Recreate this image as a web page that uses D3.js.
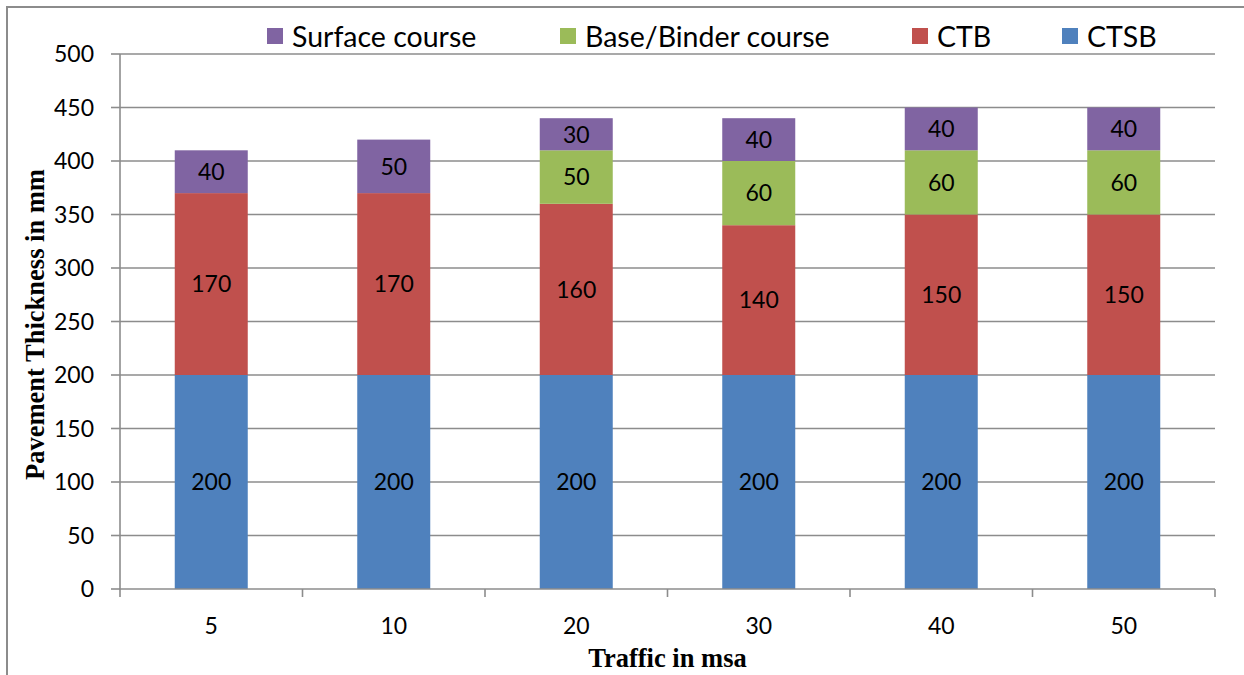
<!DOCTYPE html>
<html>
<head>
<meta charset="utf-8">
<script src="https://cdn.jsdelivr.net/npm/d3@7"></script>
<style>
  html, body { margin: 0; padding: 0; background: #fff; }
  svg { display: block; }
</style>
</head>
<body>
<svg id="chart" width="1244" height="675"></svg>
<script>
const categories = ["5", "10", "20", "30", "40", "50"];
const seriesNames = ["CTSB", "CTB", "Base/Binder course", "Surface course"];
const ctsb = [200, 200, 200, 200, 200, 200];
const ctb = [170, 170, 160, 140, 150, 150];
const baseBinder = [0, 0, 50, 60, 60, 60];
const surface = [40, 50, 30, 40, 40, 40];
const yTicks = [0, 50, 100, 150, 200, 250, 300, 350, 400, 450, 500];
const legendOrder = ["Surface course", "Base/Binder course", "CTB", "CTSB"];
const colors = {
  "CTSB": "#4F81BD",
  "CTB": "#C0504D",
  "Base/Binder course": "#9BBB59",
  "Surface course": "#8064A2"
};

const svg = d3.select("#chart");
const W = 1244, H = 675;
const m = { left: 120, right: 1215, top: 54, bottom: 589 };
const tickFont = "Lato, 'Open Sans', sans-serif";
const serif = "'Liberation Serif', 'Times New Roman', serif";

// outer frame
svg.append("rect").attr("x", 7).attr("y", 7).attr("width", W).attr("height", H)
  .attr("fill", "none").attr("stroke", "#8c8c8c").attr("stroke-width", 2);

const x = d3.scaleBand().domain(categories).range([m.left, m.right]).paddingInner(0.6).paddingOuter(0.3);
const xb = d3.scaleBand().domain(categories).range([m.left, m.right]);
const y = d3.scaleLinear().domain([0, 500]).range([m.bottom, m.top]);

// gridlines
svg.append("g").selectAll("line").data(yTicks.filter(d => d > 0)).join("line")
  .attr("x1", m.left).attr("x2", m.right)
  .attr("y1", d => y(d)).attr("y2", d => y(d))
  .attr("stroke", "#8c8c8c").attr("stroke-width", 1.6);

// stacked data
const table = categories.map((c, i) => ({
  cat: c,
  "CTSB": ctsb[i], "CTB": ctb[i], "Base/Binder course": baseBinder[i], "Surface course": surface[i]
}));
const stack = d3.stack().keys(seriesNames)(table);

const bars = svg.append("g");
stack.forEach(layer => {
  const g = bars.append("g").attr("fill", colors[layer.key]);
  g.selectAll("rect").data(layer.filter(d => d[1] - d[0] > 0)).join("rect")
    .attr("x", d => x(d.data.cat))
    .attr("width", x.bandwidth())
    .attr("y", d => y(d[1]))
    .attr("height", d => y(d[0]) - y(d[1]));
  bars.append("g").selectAll("text").data(layer.filter(d => d[1] - d[0] > 0)).join("text")
    .attr("x", d => x(d.data.cat) + x.bandwidth() / 2)
    .attr("y", d => (y(d[0]) + y(d[1])) / 2)
    .attr("dy", "0.36em")
    .attr("text-anchor", "middle")
    .attr("font-family", tickFont).attr("font-size", 23)
    .attr("fill", "#000")
    .text(d => d[1] - d[0]);
});

// axes lines
svg.append("line").attr("x1", m.left).attr("x2", m.left).attr("y1", m.top).attr("y2", m.bottom)
  .attr("stroke", "#8c8c8c").attr("stroke-width", 1.6);
svg.append("line").attr("x1", m.left - 1).attr("x2", m.right).attr("y1", m.bottom).attr("y2", m.bottom)
  .attr("stroke", "#8c8c8c").attr("stroke-width", 1.6);

// y ticks
const yg = svg.append("g");
yg.selectAll("line").data(yTicks).join("line")
  .attr("x1", m.left - 9).attr("x2", m.left)
  .attr("y1", d => y(d)).attr("y2", d => y(d))
  .attr("stroke", "#8c8c8c").attr("stroke-width", 1.6);
yg.selectAll("text").data(yTicks).join("text")
  .attr("x", 94).attr("y", d => y(d)).attr("dy", "0.36em")
  .attr("text-anchor", "end")
  .attr("font-family", tickFont).attr("font-size", 23).attr("fill", "#000")
  .text(d => d);

// x ticks at category boundaries
const bounds = categories.map(c => xb(c)).concat([m.right]);
svg.append("g").selectAll("line").data(bounds).join("line")
  .attr("x1", d => d).attr("x2", d => d)
  .attr("y1", m.bottom).attr("y2", m.bottom + 8)
  .attr("stroke", "#8c8c8c").attr("stroke-width", 1.6);
svg.append("g").selectAll("text").data(categories).join("text")
  .attr("x", d => xb(d) + xb.bandwidth() / 2).attr("y", 626).attr("dy", "0.36em")
  .attr("text-anchor", "middle")
  .attr("font-family", tickFont).attr("font-size", 23).attr("fill", "#000")
  .text(d => d);

// axis titles
svg.append("text")
  .attr("x", (m.left + m.right) / 2).attr("y", 667)
  .attr("text-anchor", "middle")
  .attr("font-family", serif)
  .attr("font-weight", "bold").attr("font-size", 26.5).attr("fill", "#000")
  .text("Traffic in msa");
svg.append("text")
  .attr("transform", `translate(44, ${(m.top + m.bottom) / 2 + 3}) rotate(-90)`)
  .attr("text-anchor", "middle")
  .attr("font-family", serif)
  .attr("font-weight", "bold").attr("font-size", 26.5).attr("fill", "#000")
  .text("Pavement Thickness in mm");

// legend
const legendX = [267, 560, 912, 1062];
const lg = svg.append("g");
legendOrder.forEach((name, i) => {
  lg.append("rect").attr("x", legendX[i]).attr("y", 28).attr("width", 16).attr("height", 16)
    .attr("fill", colors[name]);
  lg.append("text").attr("x", legendX[i] + 25).attr("y", 47)
    .attr("font-family", tickFont).attr("font-size", 28.5).attr("fill", "#000")
    .text(name);
});
</script>
</body>
</html>
